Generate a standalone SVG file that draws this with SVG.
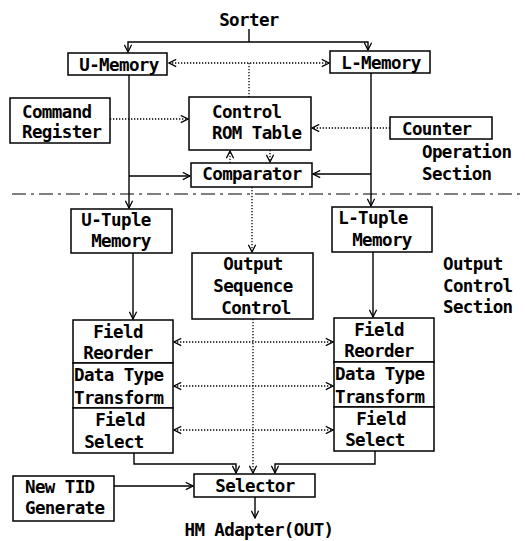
<svg xmlns="http://www.w3.org/2000/svg" width="525" height="541" viewBox="0 0 525 541">
<defs>
<style>
.box{fill:#fff;stroke:#000;stroke-width:1.5}
text{font-family:"DejaVu Sans Mono","Liberation Mono",monospace;font-size:17.5px;font-weight:bold;letter-spacing:-0.6px;fill:#000}
.m{text-anchor:middle}
.ln{fill:none;stroke:#000;stroke-width:1.4}
.dt{fill:none;stroke:#000;stroke-width:1.3;stroke-dasharray:1.3 1.7}
.sep{fill:none;stroke:#000;stroke-width:1.1;stroke-dasharray:14 5 3 5}
</style>
<marker id="a" viewBox="0 0 10 10" refX="9" refY="5" markerWidth="9" markerHeight="9" markerUnits="userSpaceOnUse" orient="auto-start-reverse">
<path d="M1,1 L9,5 L1,9" fill="none" stroke="#000" stroke-width="1.4"/>
</marker>
</defs>
<rect width="525" height="541" fill="#fff"/>
<g id="connectors">
<path class="ln" d="M249,29 V42"/>
<path class="ln" d="M249,42 H128 V52" marker-end="url(#a)"/>
<path class="ln" d="M249,42 H368 V50" marker-end="url(#a)"/>
<path class="dt" d="M169,63 H329" marker-start="url(#a)" marker-end="url(#a)"/>
<path class="dt" d="M249,63 V97"/>
<path class="dt" d="M110,119 H188" marker-end="url(#a)"/>
<path class="dt" d="M390,128 H312" marker-end="url(#a)"/>
<path class="dt" d="M230,163 V151" marker-end="url(#a)"/>
<path class="dt" d="M270,150 V162" marker-end="url(#a)"/>
<path class="ln" d="M129,75 V208" marker-end="url(#a)"/>
<path class="ln" d="M129,176 H190" marker-end="url(#a)"/>
<path class="ln" d="M371,73 V206" marker-end="url(#a)"/>
<path class="ln" d="M371,174 H313" marker-end="url(#a)"/>
<path class="dt" d="M252,187 V252" marker-end="url(#a)"/>
<path class="ln" d="M133,253 V319" marker-end="url(#a)"/>
<path class="ln" d="M373,252 V317" marker-end="url(#a)"/>
<path class="dt" d="M174,342 H333" marker-start="url(#a)" marker-end="url(#a)"/>
<path class="dt" d="M174,386 H333" marker-start="url(#a)" marker-end="url(#a)"/>
<path class="dt" d="M174,430 H333" marker-start="url(#a)" marker-end="url(#a)"/>
<path class="dt" d="M253,319 V473" marker-end="url(#a)"/>
<path class="ln" d="M134,453 V464 H236 V473" marker-end="url(#a)"/>
<path class="ln" d="M375,451 V464 H275 V473" marker-end="url(#a)"/>
<path class="ln" d="M114,486 H193" marker-end="url(#a)"/>
<path class="ln" d="M255,497 V518" marker-end="url(#a)"/>
<path class="sep" d="M12,194 H525"/>
</g>
<g id="sorter"><text class="m" x="249" y="26">Sorter</text></g>
<g id="u-memory"><rect class="box" x="68" y="53" width="99" height="22"/><text class="m" x="119" y="71">U-Memory</text></g>
<g id="l-memory"><rect class="box" x="330" y="51" width="100" height="22"/><text class="m" x="381" y="69">L-Memory</text></g>
<g id="control-rom"><rect class="box" x="189" y="97" width="122" height="53"/><text x="212" y="118">Control</text><text x="212" y="139">ROM Table</text></g>
<g id="command-register"><rect class="box" x="10" y="98" width="100" height="45"/><text x="22" y="118">Command</text><text x="22" y="138">Register</text></g>
<g id="counter"><rect class="box" x="390" y="117" width="102" height="22"/><text x="402" y="135">Counter</text></g>
<g id="operation-section"><text x="422" y="158">Operation</text><text x="422" y="180">Section</text></g>
<g id="comparator"><rect class="box" x="191" y="163" width="121" height="24"/><text class="m" x="252" y="180">Comparator</text></g>
<g id="u-tuple"><rect class="box" x="71" y="209" width="101" height="44"/><text class="m" x="116" y="226">U-Tuple</text><text class="m" x="121" y="247">Memory</text></g>
<g id="l-tuple"><rect class="box" x="332" y="207" width="100" height="45"/><text class="m" x="373" y="224">L-Tuple</text><text class="m" x="382" y="246">Memory</text></g>
<g id="output-sequence"><rect class="box" x="192" y="253" width="121" height="66"/><text class="m" x="253" y="270">Output</text><text class="m" x="253" y="292">Sequence</text><text class="m" x="256" y="314">Control</text></g>
<g id="output-control-section"><text x="443" y="270">Output</text><text x="443" y="292">Control</text><text x="443" y="313">Section</text></g>
<g id="left-stack">
<rect class="box" x="73" y="320" width="100" height="43"/><text class="m" x="118" y="338">Field</text><text class="m" x="118" y="359">Reorder</text>
<rect class="box" x="73" y="363" width="100" height="45"/><text x="74" y="381">Data Type</text><text x="74" y="404">Transform</text>
<rect class="box" x="73" y="408" width="100" height="45"/><text class="m" x="120" y="426">Field</text><text class="m" x="114" y="448">Select</text>
</g>
<g id="right-stack">
<rect class="box" x="334" y="318" width="100" height="44"/><text class="m" x="379" y="336">Field</text><text class="m" x="379" y="357">Reorder</text>
<rect class="box" x="334" y="362" width="100" height="45"/><text x="335" y="380">Data Type</text><text x="335" y="403">Transform</text>
<rect class="box" x="334" y="407" width="100" height="44"/><text class="m" x="381" y="425">Field</text><text class="m" x="375" y="446">Select</text>
</g>
<g id="selector"><rect class="box" x="194" y="474" width="121" height="23"/><text class="m" x="255" y="492">Selector</text></g>
<g id="new-tid"><rect class="box" x="13" y="476" width="101" height="45"/><text x="25" y="493">New TID</text><text x="25" y="514">Generate</text></g>
<g id="hm-adapter"><text class="m" x="259" y="536">HM Adapter(OUT)</text></g>
</svg>
